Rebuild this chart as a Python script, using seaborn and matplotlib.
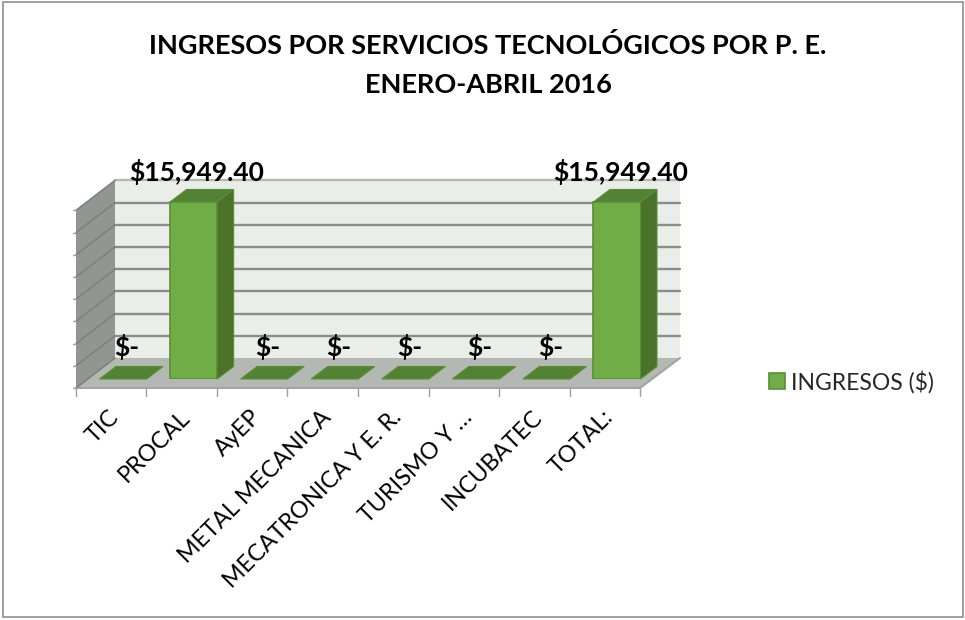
#!/usr/bin/env python3
"""
Ingresos por servicios tecnologicos por P. E., drawn as a pseudo-3D column chart.
"""

import matplotlib
matplotlib.use("Agg")

import matplotlib.pyplot as plt
import pandas as pd
import seaborn as sns
from matplotlib.patches import Polygon, Rectangle
from matplotlib.transforms import Affine2D, ScaledTranslation


CATEGORIES = ["TIC", "PROCAL", "AyEP", "METAL MECANICA", "MECATRONICA Y E. R.",
              "TURISMO Y …", "INCUBATEC", "TOTAL:"]
INGRESOS = [0, 15949.40, 0, 0, 0, 0, 0, 15949.40]
SERIES_NAME = "INGRESOS ($)"
TITLE = "INGRESOS POR SERVICIOS TECNOLÓGICOS POR P. E.\nENERO-ABRIL 2016"
Y_TICKS = [0, 2000, 4000, 6000, 8000, 10000, 12000, 14000, 16000]

W, H = 965, 620
GREEN = "#70ad47"
GREEN_EDGE = "#5a8f37"
GREEN_TOP = "#548235"
GREEN_SIDE = "#4a7229"
WALL = "#e9eee8"
SIDE_WALL = "#929693"
FLOOR = "#b4b8b3"
GRID = "#8c8c8c"

sns.set_theme(style="white")
plt.rcParams["font.family"] = ["Lato", "DejaVu Sans"]

df = pd.DataFrame({"Programa": CATEGORIES, "Ingresos": INGRESOS, "Serie": SERIES_NAME})

fig = plt.figure(figsize=(W / 100, H / 100), dpi=100)
ax = fig.add_axes([87.75 / W, 1 - 379 / H, 564.5 / W, 177.6 / H])
ax.patch.set_visible(False)

sns.barplot(data=df, x="Programa", y="Ingresos", hue="Serie", palette=[GREEN],
            width=0.667, saturation=1, edgecolor=GREEN_EDGE, linewidth=1.2,
            dodge=False, zorder=5, ax=ax)
ax.set_xlim(-0.5, 7.5)
ax.set_ylim(0, Y_TICKS[-1])
ax.set_xlabel("")
ax.set_ylabel("")
ax.set_yticks(Y_TICKS)
ax.set_yticklabels([])
ax.tick_params(axis="both", length=0)
sns.despine(ax=ax, left=True, bottom=True)

# pixel space, y pointing down like the reference picture
px = Affine2D().scale(1, -1).translate(0, H)


def to_px(x, y):
    dx, dy = ax.transData.transform((x, y))
    return dx, H - dy


def shape(points, color, edge="none", z=1, lw=0.0, tr=px):
    ax.add_patch(Polygon(points, closed=True, facecolor=color, edgecolor=edge, lw=lw,
                         transform=tr, clip_on=False, zorder=z))


# walls and floor
FRONT_L, FRONT_R, BACK_L, BACK_R = 76, 640, 115, 680
FRONT_Y, BACK_Y, WALL_TOP = 388, 358, 180
shape([(BACK_L, WALL_TOP), (BACK_R, WALL_TOP), (BACK_R, BACK_Y), (BACK_L, BACK_Y)], WALL)
shape([(FRONT_L, WALL_TOP + 30), (BACK_L, WALL_TOP), (BACK_L, BACK_Y), (FRONT_L, FRONT_Y)], SIDE_WALL)
shape([(FRONT_L, FRONT_Y), (FRONT_R, FRONT_Y), (BACK_R, BACK_Y), (BACK_L, BACK_Y)], FLOOR)
ax.plot([FRONT_L, FRONT_R, BACK_R], [FRONT_Y, FRONT_Y, BACK_Y], color="#a2a5a2", lw=1.5,
        transform=px, clip_on=False, zorder=2)

for value in Y_TICKS:
    y = to_px(0, value)[1]
    back = y - 21
    if value > 0:
        ax.plot([BACK_L, BACK_R], [back, back], color=GRID if value < Y_TICKS[-1] else "#b5b7b5",
                lw=1.7, transform=px, clip_on=False, zorder=2)
    ax.plot([FRONT_L, BACK_L], [back + 30, back], color="#7d817f", lw=1.2,
            transform=px, clip_on=False, zorder=2)
    ax.plot([FRONT_L - 3, FRONT_L], [back + 30, back + 30], color="#a0a0a0", lw=1,
            transform=px, clip_on=False, zorder=2)

# ticks between categories on the front edge of the floor
for i in range(len(CATEGORIES) + 1):
    xb = to_px(i - 0.5, 0)[0] - 12
    ax.plot([xb, xb], [FRONT_Y, FRONT_Y + 8], color="#a0a0a0", lw=1,
            transform=px, clip_on=False, zorder=2)

# depth faces for every bar, taken from the bars seaborn drew
DEPTH_X, DEPTH_Y = 16.5, 12.5
for bar in list(ax.containers[0]):
    x0, top = to_px(bar.get_x(), bar.get_height())
    x1, base = to_px(bar.get_x() + bar.get_width(), 0)
    shape([(x0, top), (x1, top), (x1 + DEPTH_X, top - DEPTH_Y), (x0 + DEPTH_X, top - DEPTH_Y)],
          GREEN_TOP, edge=GREEN_EDGE, z=6, lw=0.8)
    if bar.get_height() > 0:
        shape([(x1, top), (x1 + DEPTH_X, top - DEPTH_Y), (x1 + DEPTH_X, base - DEPTH_Y), (x1, base)],
              GREEN_SIDE, edge=GREEN_EDGE, z=6, lw=0.8)

    label = f"${bar.get_height():,.2f}" if bar.get_height() > 0 else "$-"
    shift = 3.5 if bar.get_height() > 0 else 4
    gap = 8 if bar.get_height() > 0 else 10
    ax.text(to_px(bar.get_x() + bar.get_width() / 2, 0)[0] + shift, top - DEPTH_Y - gap, label,
            transform=px, ha="center", va="baseline", fontsize=19.1, fontweight="bold",
            color="black", clip_on=False, zorder=8)

# category labels, shifted to the front edge of the floor
ax.set_xticks(range(len(CATEGORIES)))
ax.set_xticklabels(CATEGORIES, rotation=45, ha="right", va="center",
                   rotation_mode="anchor", fontsize=16.8, color="black")
ax.tick_params(axis="x", pad=25)
offset = ScaledTranslation(-7 / 100, 0, fig.dpi_scale_trans)
for tick_label in ax.get_xticklabels():
    tick_label.set_transform(tick_label.get_transform() + offset)

fig.text(488 / W, 1 - 46 / H, TITLE.split("\n")[0], ha="center", va="center",
         fontsize=19.5, fontweight="bold", color="black")
fig.text(488 / W, 1 - 85 / H, TITLE.split("\n")[1], ha="center", va="center",
         fontsize=19.5, fontweight="bold", color="black")

sns.move_legend(ax, "center left", bbox_to_anchor=(748 / W, 1 - 382 / H),
                bbox_transform=fig.transFigure, title=None, frameon=False,
                fontsize=16.5, handlelength=0.7, handleheight=0.7, handletextpad=0.26)

# chart frame
fig.add_artist(Rectangle((2.5, 2), 960, 615, transform=px, fill=False,
                         edgecolor="#8f8f8f", lw=1.2))

fig.savefig("out.png", dpi=100)
plt.close(fig)
